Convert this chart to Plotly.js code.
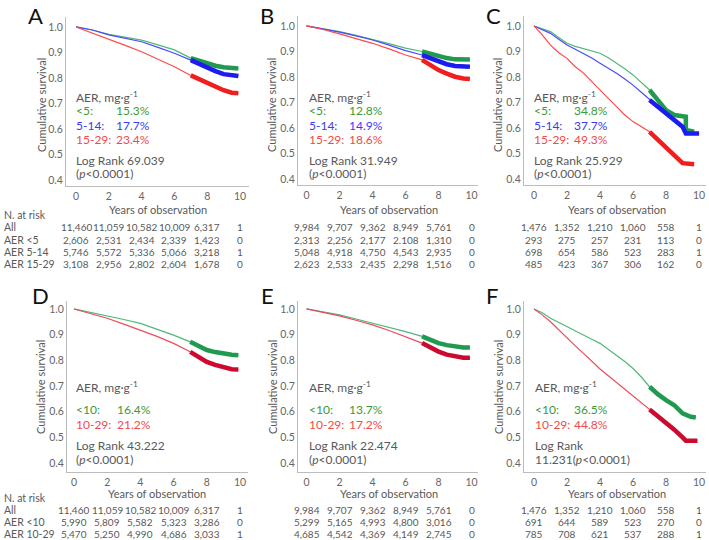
<!DOCTYPE html>
<html><head><meta charset="utf-8">
<script src="https://cdn.plot.ly/plotly-3.0.1.min.js"></script>
<style>html,body{margin:0;padding:0;background:#fff}#chart{width:709px;height:540px}</style>
</head><body><div id="chart"></div>
<script>
// ---------- DATA ----------
const tAB = [0,1,2,3,4,5,6,7,7.5,8,8.5,9,9.5,9.9];
const greenA = [1.0,0.988,0.971,0.959,0.948,0.930,0.910,0.878,0.868,0.857,0.848,0.842,0.838,0.837];
const blueA  = [1.0,0.988,0.969,0.956,0.942,0.920,0.897,0.870,0.855,0.840,0.827,0.815,0.810,0.808];
const redA   = [1.0,0.977,0.953,0.928,0.903,0.874,0.844,0.810,0.795,0.780,0.765,0.752,0.742,0.740];

const greenB = [1.0,0.990,0.978,0.963,0.948,0.931,0.913,0.900,0.890,0.880,0.874,0.869,0.868,0.868];
const blueB  = [1.0,0.989,0.976,0.961,0.945,0.925,0.903,0.886,0.873,0.860,0.850,0.843,0.840,0.840];
const redB   = [1.0,0.986,0.969,0.951,0.932,0.910,0.886,0.867,0.846,0.827,0.813,0.801,0.794,0.792];

const tGreenC = [0,0.5,1,1.5,2,2.5,3,3.5,4,4.5,5,5.5,6,6.5,7,7.5,8,8.5,9,9.2,9.2,9.7];
const greenC  = [1.0,0.990,0.978,0.955,0.932,0.920,0.912,0.902,0.893,0.875,0.854,0.832,0.808,0.780,0.749,0.710,0.670,0.651,0.644,0.644,0.592,0.585];
const tBlueC  = [0,0.5,1,1.5,2,2.5,3,3.5,4,4.5,5,5.5,6,6.5,7,7.5,8,8.5,9,9.2,10.0];
const blueC   = [1.0,0.985,0.971,0.948,0.925,0.909,0.893,0.874,0.854,0.835,0.815,0.792,0.768,0.740,0.710,0.684,0.658,0.631,0.605,0.578,0.578];
const tRedC   = [0,0.5,1,1.5,2,2.5,3,3.5,4,4.5,5,5.5,6,6.5,7,7.5,8,8.5,9,9.7];
const redC    = [1.0,0.965,0.925,0.895,0.873,0.840,0.815,0.782,0.745,0.716,0.684,0.651,0.625,0.605,0.585,0.553,0.527,0.494,0.462,0.458];

const tDE = [0,1,2,3,4,5,6,7,7.5,8,8.5,9,9.5,9.9];
const greenD = [1.0,0.987,0.973,0.959,0.944,0.922,0.898,0.872,0.855,0.840,0.832,0.826,0.822,0.820];
const redD   = [1.0,0.982,0.964,0.941,0.918,0.893,0.866,0.833,0.812,0.794,0.782,0.772,0.765,0.764];
const greenE = [1.0,0.989,0.977,0.961,0.945,0.929,0.912,0.893,0.880,0.867,0.859,0.853,0.850,0.850];
const redE   = [1.0,0.987,0.973,0.956,0.938,0.916,0.893,0.867,0.850,0.834,0.822,0.814,0.810,0.810];

const tGreenF = [0,0.5,1,1.5,2,2.5,3,3.5,4,4.5,5,5.5,6,6.5,7,7.5,8,8.5,9,9.5,9.8];
const greenF  = [1.0,0.985,0.964,0.947,0.931,0.915,0.898,0.882,0.866,0.843,0.820,0.795,0.768,0.735,0.697,0.668,0.645,0.625,0.593,0.580,0.577];
const tRedF   = [0,0.5,1,1.5,2,2.5,3,3.5,4,4.5,5,5.5,6,6.5,7,7.5,8,8.5,9,9.2,9.9];
const redF    = [1.0,0.977,0.950,0.918,0.885,0.856,0.827,0.796,0.766,0.740,0.714,0.688,0.661,0.634,0.608,0.583,0.557,0.530,0.500,0.487,0.487];

const riskTimes = [0,2,4,6,8,10];
const riskLabelsTop = ["All","AER <5","AER 5-14","AER 15-29"];
const riskLabelsBottom = ["All","AER <10","AER 10-29"];
const riskA = [["11,460","11,059","10,582","10,009","6,317","1"],["2,606","2,531","2,434","2,339","1,423","0"],["5,746","5,572","5,336","5,066","3,218","1"],["3,108","2,956","2,802","2,604","1,678","0"]];
const riskB = [["9,984","9,707","9,362","8,949","5,761","0"],["2,313","2,256","2,177","2.108","1,310","0"],["5,048","4,918","4,750","4,543","2,935","0"],["2,623","2,533","2,435","2,298","1,516","0"]];
const riskC = [["1,476","1,352","1,210","1,060","558","1"],["293","275","257","231","113","0"],["698","654","586","523","283","1"],["485","423","367","306","162","0"]];
const riskD = [["11,460","11,059","10,582","10,009","6,317","1"],["5,990","5,809","5,582","5,323","3,286","0"],["5,470","5,250","4,990","4,686","3,033","1"]];
const riskE = [["9,984","9,707","9,362","8,949","5,761","0"],["5,299","5,165","4,993","4,800","3,016","0"],["4,685","4,542","4,369","4,149","2,745","0"]];
const riskF = [["1,476","1,352","1,210","1,060","558","1"],["691","644","589","523","270","0"],["785","708","621","537","288","1"]];

const groupsTop = ["<5:","5-14:","15-29:"];
const groupsBottom = ["<10:","10-29:"];
const pctA = ["15.3%","17.7%","23.4%"];
const pctB = ["12.8%","14.9%","18.6%"];
const pctC = ["34.8%","37.7%","49.3%"];
const pctD = ["16.4%","21.2%"];
const pctE = ["13.7%","17.2%"];
const pctF = ["36.5%","44.8%"];
const logRank = ["Log Rank 69.039","Log Rank 31.949","Log Rank 25.929","Log Rank 43.222","Log Rank 22.474","Log Rank"];
const pText = ["(<i>p</i><0.0001)","(<i>p</i><0.0001)","(<i>p</i><0.0001)","(<i>p</i><0.0001)","(<i>p</i><0.0001)","11.231(<i>p</i><0.0001)"];
const panelLetters = ["A","B","C","D","E","F"];
const xTicks = [0,2,4,6,8,10];
const yTicks = [0.4,0.5,0.6,0.7,0.8,0.9,1.0];

// ---------- STYLE / LAYOUT ----------
const W=709,H=540;
const px = v => v/W, py = v => 1 - v/H;
const FONT = "Lato, 'Open Sans', sans-serif";
const GRAY = "#595959";
const C_GREEN_THIN="#4fb978", C_GREEN="#1f9a4f";
const C_BLUE_THIN="#4a4aff", C_BLUE="#1c1cf0";
const C_RED_THIN="#ff4a4a", C_RED="#f01e1e";
const C_RED2_THIN="#ee4a5e", C_RED2="#cc0a30";
const TXT_GREEN="#3a9a3a", TXT_BLUE="#3b3bf5", TXT_RED="#f04a4a";
const LEG = 12, TAB = 10;

const panels = [
  {xd:[66,249], yd:[17,186], xr:[-0.61,10.55], yr:[0.3765,1.039], letter:[35,0], ytitle:[42,105], xtitleY:209,
   lx:74, vx:114, ys:[97,110.5,125,139.5,160,174],
   curves:[[tAB,greenA,C_GREEN_THIN,C_GREEN],[tAB,blueA,C_BLUE_THIN,C_BLUE],[tAB,redA,C_RED_THIN,C_RED]],
   txtColors:[TXT_GREEN,TXT_BLUE,TXT_RED], groups:groupsTop, pct:pctA, risk:riskA, riskY:[227,239.5,252,264]},
  {xd:[298,478], yd:[16,185], xr:[-0.515,10.39], yr:[0.3765,1.039], letter:[267,0], ytitle:[272,105], xtitleY:209,
   lx:307, vx:347, ys:[97,110.5,125,139.5,160,174],
   curves:[[tAB,greenB,C_GREEN_THIN,C_GREEN],[tAB,blueB,C_BLUE_THIN,C_BLUE],[tAB,redB,C_RED_THIN,C_RED]],
   txtColors:[TXT_GREEN,TXT_BLUE,TXT_RED], groups:groupsTop, pct:pctB, risk:riskB, riskY:[227,239.5,252,264]},
  {xd:[524,706], yd:[16,185], xr:[-0.606,10.42], yr:[0.3765,1.039], letter:[493,0], ytitle:[498,105], xtitleY:209,
   lx:532, vx:572, ys:[97,110.5,125,139.5,160,174],
   curves:[[tGreenC,greenC,C_GREEN_THIN,C_GREEN],[tBlueC,blueC,C_BLUE_THIN,C_BLUE],[tRedC,redC,C_RED_THIN,C_RED]],
   txtColors:[TXT_GREEN,TXT_BLUE,TXT_RED], groups:groupsTop, pct:pctC, risk:riskC, riskY:[227,239.5,252,264]},
  {xd:[67,248], yd:[301,472], xr:[-0.42,10.48], yr:[0.365,1.031], letter:[40,280], ytitle:[40,387], xtitleY:493,
   lx:74, vx:115, ys:[387,409,424.5,445,459],
   curves:[[tDE,greenD,C_GREEN_THIN,C_GREEN],[tDE,redD,C_RED2_THIN,C_RED2]],
   txtColors:[TXT_GREEN,TXT_RED], groups:groupsBottom, pct:pctD, risk:riskD, riskY:[510,522,534]},
  {xd:[298,478], yd:[301,472], xr:[-0.515,10.39], yr:[0.365,1.031], letter:[267,280], ytitle:[272,387], xtitleY:493,
   lx:307, vx:347, ys:[387,409,424.5,445,459],
   curves:[[tDE,greenE,C_GREEN_THIN,C_GREEN],[tDE,redE,C_RED2_THIN,C_RED2]],
   txtColors:[TXT_GREEN,TXT_RED], groups:groupsBottom, pct:pctE, risk:riskE, riskY:[510,522,534]},
  {xd:[524,706], yd:[301,472], xr:[-0.606,10.42], yr:[0.365,1.031], letter:[492,280], ytitle:[498,387], xtitleY:493,
   lx:533, vx:572, ys:[387,409,424.5,445,459],
   curves:[[tGreenF,greenF,C_GREEN_THIN,C_GREEN],[tRedF,redF,C_RED2_THIN,C_RED2]],
   txtColors:[TXT_GREEN,TXT_RED], groups:groupsBottom, pct:pctF, risk:riskF, riskY:[510,522,534]}
];
const CENSOR_START = 7;

const traces = [];
const layout = {
  width:W, height:H, margin:{l:0,r:0,t:0,b:0}, showlegend:false,
  paper_bgcolor:"#fff", plot_bgcolor:"#fff",
  font:{family:FONT, color:GRAY, size:11},
  annotations:[]
};
const ann = (o) => layout.annotations.push(Object.assign({showarrow:false, xref:"paper", yref:"paper", font:{family:FONT,size:LEG,color:GRAY}}, o));

panels.forEach((p,i)=>{
  const n = i===0 ? "" : String(i+1);
  const xa = "x"+n, ya = "y"+n;
  layout["xaxis"+n] = {domain:[px(p.xd[0]),px(p.xd[1])], range:p.xr, anchor:ya,
    showline:true, linecolor:"#bcbcbc", linewidth:1, showgrid:false, zeroline:false, ticks:"",
    tickvals:xTicks, tickfont:{size:10.5,color:"#666"}, fixedrange:true};
  layout["yaxis"+n] = {domain:[py(p.yd[1]),py(p.yd[0])], range:p.yr, anchor:xa,
    showline:true, linecolor:"#bcbcbc", linewidth:1, showgrid:false, zeroline:false, ticks:"",
    tickvals:yTicks, tickformat:".1f", tickfont:{size:10.5,color:"#666"}, fixedrange:true};
  p.curves.forEach(([t,s,thin,thick])=>{
    traces.push({type:"scatter", mode:"lines", x:t, y:s, xaxis:xa, yaxis:ya,
      line:{color:thin, width:1.2}, hoverinfo:"skip"});
    const tt=[], ss=[];
    t.forEach((v,k)=>{ if(v>=CENSOR_START){tt.push(v); ss.push(s[k]);} });
    traces.push({type:"scatter", mode:"lines", x:tt, y:ss, xaxis:xa, yaxis:ya,
      line:{color:thick, width:4.5}, hoverinfo:"skip"});
  });
  ann({text:panelLetters[i], x:px(p.letter[0]), y:py(p.letter[1]), xanchor:"center", yanchor:"top", font:{family:FONT,size:22,color:"#111"}});
  ann({text:"Cumulative survival", x:px(p.ytitle[0]), y:py(p.ytitle[1]), xanchor:"center", yanchor:"middle", textangle:-90, font:{family:FONT,size:11,color:GRAY}});
  ann({text:"Years of observation", xref:xa, x:5, y:py(p.xtitleY), xanchor:"center", yanchor:"middle", font:{family:FONT,size:11,color:GRAY}});
  ann({text:"AER, mg·g<sup>-1</sup>", x:px(p.lx), y:py(p.ys[0]), xanchor:"left", yanchor:"middle"});
  p.groups.forEach((g,k)=>{
    ann({text:g, x:px(p.lx), y:py(p.ys[k+1]), xanchor:"left", yanchor:"middle", font:{family:FONT,size:LEG,color:p.txtColors[k]}});
    ann({text:p.pct[k], x:px(p.vx), y:py(p.ys[k+1]), xanchor:"left", yanchor:"middle", font:{family:FONT,size:LEG,color:p.txtColors[k]}});
  });
  const m = p.groups.length;
  ann({text:logRank[i], x:px(p.lx), y:py(p.ys[m+1]), xanchor:"left", yanchor:"middle"});
  ann({text:pText[i], x:px(p.lx), y:py(p.ys[m+2]), xanchor:"left", yanchor:"middle"});
  p.risk.forEach((row,r)=>{
    row.forEach((val,c)=>{
      ann({text:val, xref:xa, x:riskTimes[c], y:py(p.riskY[r]), xanchor:"center", yanchor:"middle", font:{family:FONT,size:TAB,color:GRAY}});
    });
  });
});
ann({text:"N. at risk", x:px(2), y:py(215), xanchor:"left", yanchor:"middle", font:{family:FONT,size:10.5,color:GRAY}});
riskLabelsTop.forEach((l,r)=>ann({text:l, x:px(2), y:py(panels[0].riskY[r]), xanchor:"left", yanchor:"middle", font:{family:FONT,size:10.5,color:GRAY}}));
ann({text:"N. at risk", x:px(2), y:py(498), xanchor:"left", yanchor:"middle", font:{family:FONT,size:10.5,color:GRAY}});
riskLabelsBottom.forEach((l,r)=>ann({text:l, x:px(2), y:py(panels[3].riskY[r]), xanchor:"left", yanchor:"middle", font:{family:FONT,size:10.5,color:GRAY}}));

Plotly.newPlot("chart", traces, layout, {staticPlot:true, displayModeBar:false});
</script>
</body></html>
